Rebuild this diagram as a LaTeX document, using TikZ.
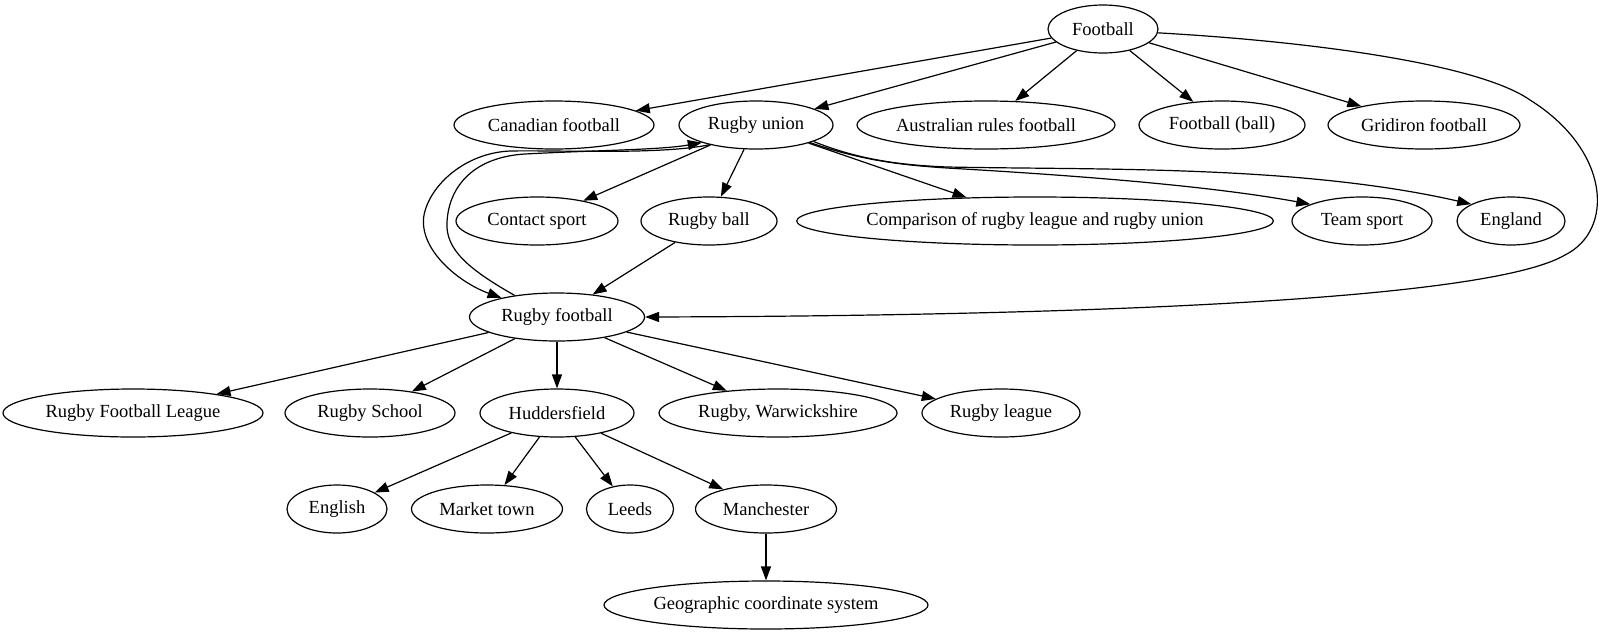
\documentclass[tikz,border=0pt]{standalone}
\usepackage{fontspec}
\setmainfont{Liberation Serif}
\usetikzlibrary{arrows.meta,shapes.geometric}

\begin{document}
\begin{tikzpicture}[x=1pt,y=-1pt,
  item/.style={draw,ellipse,inner sep=0pt,minimum height=48pt,line width=1.2pt,
    font=\fontsize{18.5}{22}\selectfont},
  link/.style={-{Triangle[length=14pt,width=10pt]},line width=1.2pt}]

  % Frame
  \useasboundingbox (0,0) rectangle (1602,635);

  % Rows
  \def\rA{29}\def\rB{125}\def\rC{221}\def\rD{317}
  \def\rE{413}\def\rF{509}\def\rG{605}

  % Nodes
  \node[item,minimum width=110pt] (fb) at (1103,\rA) {Football};

  \node[item,minimum width=200pt] (cf) at (554,\rB) {Canadian football};
  \node[item,minimum width=154pt] (ru) at (756,\rB) {Rugby union};
  \node[item,minimum width=258pt] (ar) at (986,\rB) {Australian rules football};
  \node[item,minimum width=166pt] (fbb) at (1222,\rB) {Football (ball)};
  \node[item,minimum width=192pt] (gf) at (1424,\rB) {Gridiron football};

  \node[item,minimum width=162pt] (cs) at (537,\rC) {Contact sport};
  \node[item,minimum width=136pt] (rb) at (709,\rC) {Rugby ball};
  \node[item,minimum width=470pt] (cmp) at (1035,\rC) {Comparison of rugby league and rugby union};
  \node[item,minimum width=140pt] (ts) at (1362,\rC) {Team sport};
  \node[item,minimum width=108pt] (en) at (1511,\rC) {England};

  \node[item,minimum width=175pt] (rf) at (557,\rD) {Rugby football};

  \node[item,minimum width=260pt] (rfl) at (133,\rE) {Rugby Football League};
  \node[item,minimum width=170pt] (rs) at (370,\rE) {Rugby School};
  \node[item,minimum width=154pt] (hu) at (557,\rE) {Huddersfield};
  \node[item,minimum width=238pt] (rw) at (778,\rE) {Rugby, Warwickshire};
  \node[item,minimum width=158pt] (rl) at (1001,\rE) {Rugby league};

  \node[item,minimum width=100pt] (eng) at (337,\rF) {English};
  \node[item,minimum width=151pt] (mt) at (487,\rF) {Market town};
  \node[item,minimum width=87pt] (le) at (630,\rF) {Leeds};
  \node[item,minimum width=141pt] (ma) at (766,\rF) {Manchester};

  \node[item,minimum width=324pt] (gcs) at (766,\rG) {Geographic coordinate system};

  % Straight links
  \foreach \t in {cf,ru,ar,fbb,gf} \draw[link] (fb) -- (\t);
  \foreach \t in {cs,rb,cmp} \draw[link] (ru) -- (\t);
  \draw[link] (rb) -- (rf);
  \foreach \t in {rfl,rs,hu,rw,rl} \draw[link] (rf) -- (\t);
  \foreach \t in {eng,mt,le,ma} \draw[link] (hu) -- (\t);
  \draw[link] (ma) -- (gcs);

  % Curved links
  \draw[link] (ru.-18) .. controls (860,160) and (900,165) .. (947,168)
    .. controls (1050,174) and (1200,184) .. (ts.162);
  \draw[link] (ru.-16) .. controls (860,160) and (900,165) .. (947,167)
    .. controls (1100,170) and (1300,165) .. (en.157);
  \draw[link] (ru.203) .. controls (660,155) and (560,150) .. (510,151)
    .. controls (465,153) and (430,185) .. (424,215)
    .. controls (418,250) and (460,283) .. (rf.161);
  \draw[link] (rf.153) .. controls (470,270) and (445,250) .. (447,222)
    .. controls (449,185) and (475,157) .. (525,154)
    .. controls (600,150) and (660,150) .. (ru.198);
  \draw[link] (fb.-4) .. controls (1320,42) and (1480,65) .. (1530,100)
    .. controls (1610,150) and (1615,230) .. (1565,255)
    .. controls (1480,305) and (1000,316) .. (rf.east);

\end{tikzpicture}
\end{document}
